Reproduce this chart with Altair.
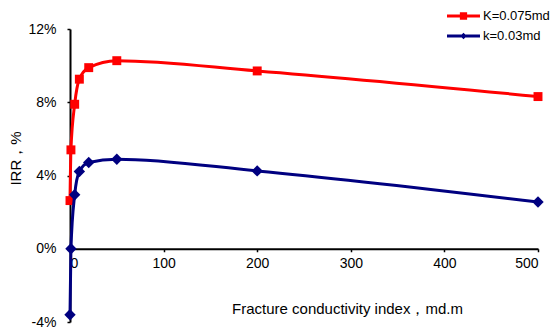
import altair as alt
import pandas as pd

# Data
x_vals = [0, 1, 5, 10, 20, 50, 200, 500]
irr_k0075 = [2.63, 5.4, 7.89, 9.26, 9.89, 10.27, 9.71, 8.31]
irr_k003 = [-3.6, 0.0, 2.95, 4.22, 4.71, 4.89, 4.25, 2.55]
series_names = ["K=0.075md", "k=0.03md"]
x_ticks = [0, 100, 200, 300, 400, 500]
y_ticks = [-4, 0, 4, 8, 12]

rows = []
for name, vals in zip(series_names, [irr_k0075, irr_k003]):
    for i, (xv, yv) in enumerate(zip(x_vals, vals)):
        rows.append({"x": xv, "irr": yv, "series": name, "order": i})
df = pd.DataFrame(rows)

FONT = "Liberation Sans"
RED = "#FF0000"
BLUE = "#000080"

W, H = 468, 293
x_off = -73.25  # move x axis up to y = 0

x_enc = alt.X(
    "x:Q",
    scale=alt.Scale(domain=[0, 500], nice=False),
    axis=alt.Axis(
        values=x_ticks,
        title="Fracture conductivity index，md.m",
        offset=x_off,
        grid=False,
        domainColor="black",
        domainWidth=2,
        tickColor="black",
        tickWidth=1.5,
        tickSize=3,
        labelPadding=5,
        labelFont=FONT,
        labelFontSize=14,
        labelColor="black",
        titleFont=FONT,
        titleFontSize=15,
        titleFontWeight="normal",
        titleColor="black",
        titleX=277,
        titleY=60,
        titleAlign="center",
        titleBaseline="middle",
    ),
)
y_enc = alt.Y(
    "irr:Q",
    scale=alt.Scale(domain=[-4, 12], nice=False, zero=False),
    axis=alt.Axis(
        values=y_ticks,
        labelExpr="datum.value + '%'",
        title="IRR，%",
        grid=False,
        domainColor="black",
        domainWidth=2,
        tickColor="black",
        tickWidth=1.5,
        tickSize=3,
        labelPadding=11,
        labelFont=FONT,
        labelFontSize=14,
        labelColor="black",
        titleFont=FONT,
        titleFontSize=15,
        titleFontWeight="normal",
        titleColor="black",
        titleX=-55,
        titleY=129,
        titleAngle=270,
        titleAlign="center",
        titleBaseline="middle",
    ),
)

sq_path = "M-1,-0.09H1V0.09H-1Z M-0.22,-0.22H0.22V0.22H-0.22Z"
dm_path = "M-1,-0.09H1V0.09H-1Z M0,-0.2L0.2,0L0,0.2L-0.2,0Z"


def series_layer(name, color, shape, size, path, ly):
    base = alt.Chart(df).transform_filter(alt.datum.series == name)
    leg = alt.Legend(
        title=None,
        orient="none",
        legendX=377,
        legendY=ly,
        padding=0,
        symbolType=path,
        symbolSize=1089,
        symbolFillColor=color,
        symbolStrokeColor=color,
        symbolStrokeWidth=0,
        symbolOpacity=1,
        labelFont=FONT,
        labelFontSize=13,
        labelColor="black",
        labelOffset=3,
    )
    col = alt.Color("series:N", scale=alt.Scale(range=[color]), legend=leg)
    line = base.mark_line(interpolate="monotone", strokeWidth=3).encode(
        x=x_enc,
        y=y_enc,
        order="order:Q",
        color=col,
    )
    pts = base.mark_point(shape=shape, filled=True, size=size, opacity=1).encode(
        x=x_enc,
        y=y_enc,
        color=col,
    )
    return alt.layer(line, pts)


red_layer = series_layer(series_names[0], RED, "square", 80, sq_path, -29.5)
blue_layer = series_layer(series_names[1], BLUE, "diamond", 130, dm_path, -9.5)

chart = (
    alt.layer(red_layer, blue_layer)
    .resolve_scale(color="independent")
    .properties(
        width=W,
        height=H,
        autosize="none",
        padding={"left": 70, "top": 29, "right": 13, "bottom": 12},
        background="white",
    )
    .configure_view(stroke=None)
)

chart.save("out.html", embed_options={"renderer": "svg", "actions": False})
